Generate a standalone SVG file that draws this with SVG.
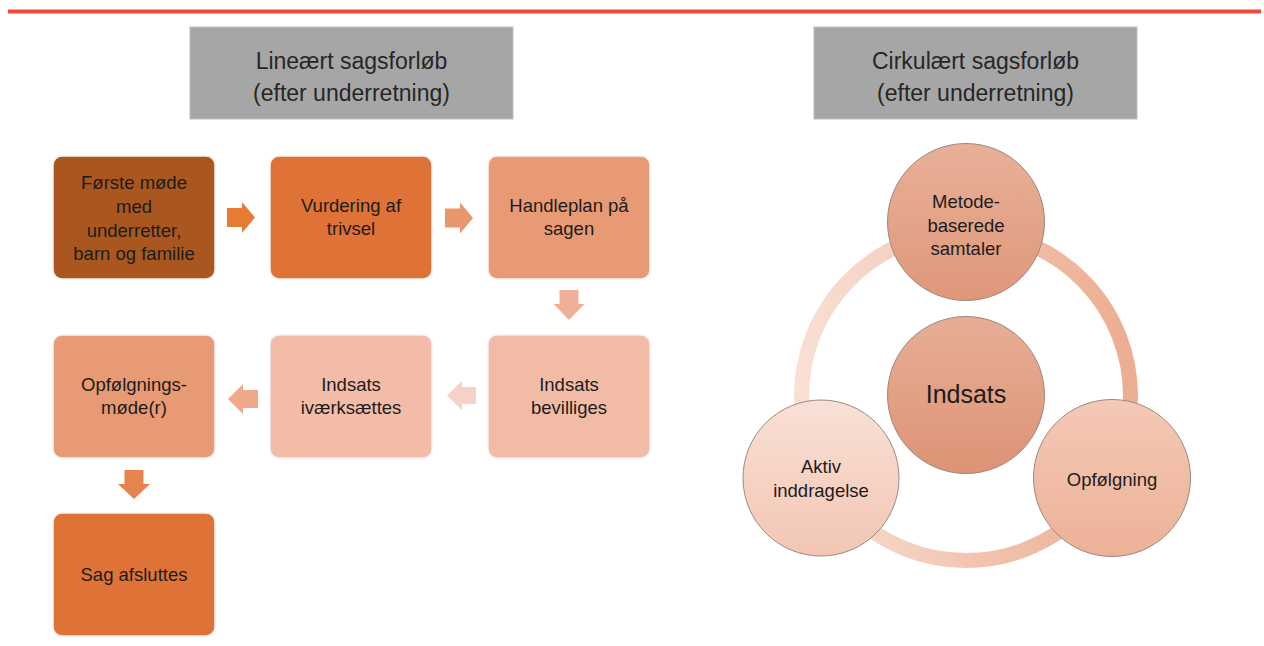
<svg xmlns="http://www.w3.org/2000/svg" width="1264" height="646" viewBox="0 0 1264 646">
  <defs>
    <style>
      .hdr { fill: #a6a6a6; stroke: #bdbdbd; stroke-width: 1; }
      .hdrt { font-family: "Liberation Sans", Arial, sans-serif; font-size: 23px; fill: #262626; text-anchor: middle; }
      .box { stroke: #f2f2f2; stroke-width: 1.5; }
      .bt { font-family: "Liberation Sans", Arial, sans-serif; font-size: 18.5px; fill: #1c1c1c; text-anchor: middle; }
      .ct { font-family: "Liberation Sans", Arial, sans-serif; font-size: 18.5px; fill: #1c1c1c; text-anchor: middle; }
      .circ { stroke: #9b8880; stroke-width: 1; }
    </style>
    <linearGradient id="gTop" x1="0" y1="0" x2="0" y2="1">
      <stop offset="0" stop-color="#e8b098"/>
      <stop offset="1" stop-color="#df977a"/>
    </linearGradient>
    <linearGradient id="gMid" x1="0" y1="0" x2="0" y2="1">
      <stop offset="0" stop-color="#e7ae95"/>
      <stop offset="1" stop-color="#dd9375"/>
    </linearGradient>
    <linearGradient id="gLeft" x1="0" y1="0" x2="0" y2="1">
      <stop offset="0" stop-color="#f9e0d6"/>
      <stop offset="1" stop-color="#f3c6b4"/>
    </linearGradient>
    <linearGradient id="gRight" x1="0" y1="0" x2="0" y2="1">
      <stop offset="0" stop-color="#f4c9b6"/>
      <stop offset="1" stop-color="#edb197"/>
    </linearGradient>
    <linearGradient id="gRing" x1="0" y1="0" x2="1" y2="0">
      <stop offset="0" stop-color="#f9dfd4"/>
      <stop offset="1" stop-color="#ecad91"/>
    </linearGradient>
  </defs>

  <rect x="0" y="0" width="1264" height="646" fill="#ffffff"/>

  <!-- top red rule -->
  <rect x="8" y="9.5" width="1253" height="4" fill="#ef4b3b"/>

  <!-- headers -->
  <g id="header-linear">
    <rect class="hdr" x="190" y="27" width="323" height="92"/>
    <text class="hdrt" x="351.5" y="69">Lineært sagsforløb</text>
    <text class="hdrt" x="351.5" y="101">(efter underretning)</text>
  </g>
  <g id="header-circular">
    <rect class="hdr" x="814" y="27" width="323" height="92"/>
    <text class="hdrt" x="975.5" y="69">Cirkulært sagsforløb</text>
    <text class="hdrt" x="975.5" y="101">(efter underretning)</text>
  </g>

  <!-- linear boxes -->
  <g id="n1">
    <rect class="box" x="53" y="156" width="162" height="123" rx="9" fill="#a9571f"/>
    <text class="bt" x="134" y="189">Første møde</text>
    <text class="bt" x="134" y="213">med</text>
    <text class="bt" x="134" y="237">underretter,</text>
    <text class="bt" x="134" y="260">barn og familie</text>
  </g>
  <g id="n2">
    <rect class="box" x="270" y="156" width="162" height="123" rx="9" fill="#df7236"/>
    <text class="bt" x="351" y="212">Vurdering af</text>
    <text class="bt" x="351" y="235">trivsel</text>
  </g>
  <g id="n3">
    <rect class="box" x="488" y="156" width="162" height="123" rx="9" fill="#e89a74"/>
    <text class="bt" x="569" y="212">Handleplan på</text>
    <text class="bt" x="569" y="235">sagen</text>
  </g>
  <g id="n4">
    <rect class="box" x="488" y="335" width="162" height="123" rx="9" fill="#f2bba6"/>
    <text class="bt" x="569" y="391">Indsats</text>
    <text class="bt" x="569" y="414">bevilliges</text>
  </g>
  <g id="n5">
    <rect class="box" x="270" y="335" width="162" height="123" rx="9" fill="#f3bca8"/>
    <text class="bt" x="351" y="391">Indsats</text>
    <text class="bt" x="351" y="414">iværksættes</text>
  </g>
  <g id="n6">
    <rect class="box" x="53" y="335" width="162" height="123" rx="9" fill="#e89a74"/>
    <text class="bt" x="134" y="391">Opfølgnings-</text>
    <text class="bt" x="134" y="414">møde(r)</text>
  </g>
  <g id="n7">
    <rect class="box" x="53" y="513" width="162" height="123" rx="9" fill="#df7236"/>
    <text class="bt" x="134" y="581">Sag afsluttes</text>
  </g>

  <!-- connectors -->
  <g id="connectors">
    <polygon points="227,208 242,208 242,202 255,217.5 242,233 242,227 227,227" fill="#e67b36"/>
    <polygon points="445,208.5 460,208.5 460,202.5 473,218 460,233.5 460,227.5 445,227.5" fill="#e9966c"/>
    <polygon points="559.5,290 578.5,290 578.5,304 584.5,304 569,320 553.5,304 559.5,304" fill="#eeb197"/>
    <polygon points="476,387 462,387 462,381 447,395.5 462,410 462,404 476,404" fill="#f6d2c4"/>
    <polygon points="258,390 243,390 243,384 228,399 243,414 243,408 258,408" fill="#eea98a"/>
    <polygon points="124.5,470 143.5,470 143.5,484 150,484 134,499 118,484 124.5,484" fill="#e5844e"/>
  </g>

  <!-- circular diagram -->
  <g id="ring">
    <circle cx="966" cy="396" r="164.5" fill="none" stroke="url(#gRing)" stroke-width="15"/>
  </g>
  <g id="c-top">
    <circle class="circ" cx="966" cy="222" r="78.5" fill="url(#gTop)"/>
    <text class="ct" x="966" y="208">Metode-</text>
    <text class="ct" x="966" y="231.5">baserede</text>
    <text class="ct" x="966" y="255">samtaler</text>
  </g>
  <g id="c-center">
    <circle class="circ" cx="966" cy="395" r="78.5" fill="url(#gMid)"/>
    <text x="966" y="403" font-family="Liberation Sans, Arial, sans-serif" font-size="25" fill="#1c1c1c" text-anchor="middle">Indsats</text>
  </g>
  <g id="c-left">
    <circle class="circ" cx="821" cy="478" r="78" fill="url(#gLeft)"/>
    <text class="ct" x="821" y="473">Aktiv</text>
    <text class="ct" x="821" y="497">inddragelse</text>
  </g>
  <g id="c-right">
    <circle class="circ" cx="1112" cy="478" r="78.5" fill="url(#gRight)"/>
    <text class="ct" x="1112" y="486">Opfølgning</text>
  </g>
</svg>
